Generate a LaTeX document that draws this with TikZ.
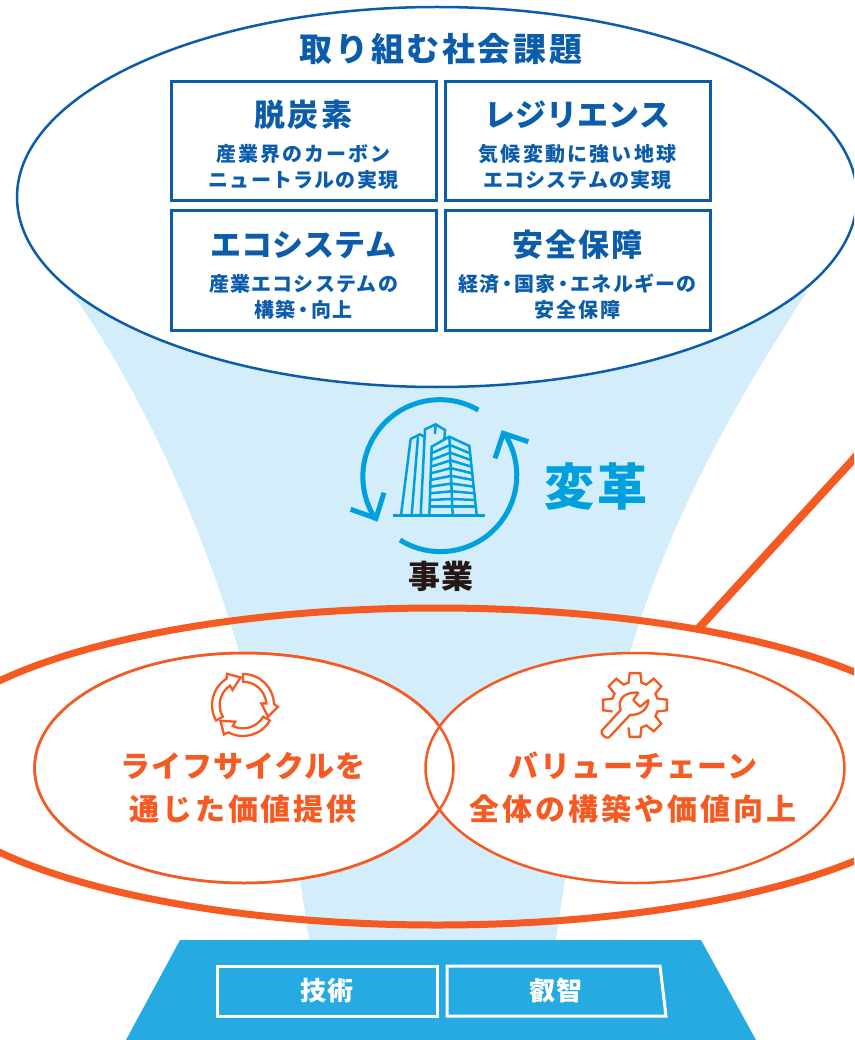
\documentclass[tikz,border=0pt]{standalone}
\usepackage{fontspec}
\usepackage{tikz}
\usetikzlibrary{arrows.meta, positioning, shapes.geometric, calc}

\newfontfamily\jpfont{Noto Sans CJK JP}[LetterSpace=6]
\newcommand{\jpsize}[2]{\fontsize{#1}{#2}\jpfont\bfseries\selectfont}
\newcommand{\ndot}{\kern-2.5pt・\kern-2.5pt}
\newcommand{\track}[2]{{\addfontfeature{LetterSpace=#1}#2}}
\newcommand{\boxhead}[2]{{\jpsize{31}{26}\addfontfeature{LetterSpace=#1}\rule{0pt}{34pt}#2}}

\definecolor{navy}{HTML}{0B5CAB}
\definecolor{sky}{HTML}{00A0DF}
\definecolor{pale}{HTML}{D4EDFB}
\definecolor{flame}{HTML}{F45A22}
\definecolor{basecol}{HTML}{25AAE1}
\definecolor{ink}{HTML}{231815}

\begin{document}
\begin{tikzpicture}[x=1pt, y=-1pt,
                box/.style={draw=navy, line width=3pt, minimum width=265pt, minimum height=119pt,
                           inner sep=0pt, outer sep=0pt, align=center, text=navy, font=\jpsize{20}{26}},
                ring/.style={draw=flame, line width=2.5pt, fill=white, ellipse, inner sep=0pt, outer sep=0pt,
                           minimum width=419pt, minimum height=230pt},
                orangetxt/.style={text=flame, align=center, inner sep=0pt, font=\jpsize{30}{43}},
                basebox/.style={draw=white, line width=3pt, inner sep=0pt, text=white,
                           font=\jpsize{26}{26}},
                icon/.style={draw=flame, line width=2.3pt, line join=miter},
                skyline/.style={draw=sky, line width=2.5pt}]

    \useasboundingbox (0,0) rectangle (854,1040);
    \clip (0,0) rectangle (854,1040);

    % funnel behind everything
    \fill[pale] (66,285) .. controls (125,365) and (195,500) .. (240,655) -- (300,880) -- (310,945)
        -- (555,945) -- (565,880) -- (630,652) .. controls (670,520) and (730,410) .. (808,290) -- cycle;

    % top ellipse with the four issue boxes
    \node[draw=navy, line width=2.5pt, fill=white, ellipse, minimum width=840pt, minimum height=380pt] (issues) at (437,197) {};
    \node[text=navy, inner sep=0pt, font=\jpsize{33}{33}] (issuetitle) at (441,49) {\track{8}{取り組む社会課題}};

    \node[box] (decarb) at (303.5,141.5) {\boxhead{7}{脱炭素}\\[9pt]\track{10.5}{産業界のカーボン}\\ニュートラルの実現};
    \node[box, right=9pt of decarb] (resil) {\boxhead{0}{レジリエンス}\\[9pt]\track{11}{気候変動に強い地球}\\\track{5}{エコシステムの実現}};
    \node[box, below=10pt of decarb] (eco) {\boxhead{0}{エコシステム}\\[9pt]産業エコシステムの\\構築\ndot 向上};
    \node[box, right=9pt of eco] (secure) {\boxhead{6}{安全保障}\\[9pt]経済\ndot 国家\ndot エネルギーの\\\track{11}{安全保障}};

    % business icon, drawn in 3x coordinates
    \begin{scope}[shift={(340,390)}, scale=1/3]
        \draw[sky, line width=5pt] (415,60) arc[start angle=-60, end angle=-213.7, radius=231];
        \draw[sky, line width=5pt] (32,358) -- (108,385) -- (132,308);
        \draw[sky, line width=5pt] (180,450) arc[start angle=122, end angle=-33.8, radius=229];
        \draw[sky, line width=5pt] (465,205) -- (490,130) -- (565,155);
    \end{scope}
    \begin{scope}[shift={(390,420)}, scale=1/3]
        \draw[skyline] (10,287) -- (285,287);
        \draw[skyline] (33,285) -- (62,57) -- (90,43) -- (105,52);
        \draw[skyline] (65,285) -- (84,50);
        \draw[skyline] (92,285) -- (105,28) -- (137,13) -- (165,30) -- (163,58);
        \draw[skyline] (137,13) -- (135,42);
        \draw[skyline] (118,285) -- (125,80) -- (178,50) -- (238,78) -- (260,285);
        \draw[skyline] (178,50) -- (188,285);
        \foreach \k in {0,...,8} {
            \pgfmathsetmacro{\t}{\k/8}
            \draw[skyline] ({124-5*\t},{100+160*\t}) -- ({180+7*\t},{75+185*\t}) -- ({240+18*\t},{100+160*\t});
        }
    \end{scope}
    \node[text=sky, inner sep=0pt, font=\jpsize{50}{50}] (change) at (596,487) {変革};
    \node[text=ink, inner sep=0pt, font=\jpsize{32}{32}] (biz) at (441,576) {事業};

    % big orange ellipse and the link leaving it
    \node[draw=flame, line width=7pt, ellipse, minimum width=1040pt, minimum height=317pt] (impact) at (437,766.5) {};
    \coordinate (linkend) at (860,452);
    \draw[flame, line width=8pt, shorten <=-5pt] (impact.28.3) -- (linkend);

    % two overlapping ellipses
    \node[ring] (life) at (244,768) {};
    \node[ring, right=-28pt of life] (chain) {};
    \draw[flame, line width=2.5pt] (life.center) ellipse [x radius=209.5, y radius=115];

    % recycle icon
    \begin{scope}[shift={(243,705)}, scale=1/3]
        \foreach \r in {0,120,240} {
            \draw[icon, rotate=\r] (-90:93) arc[start angle=-90, end angle=-2, radius=93] -- (3:105) -- (25:83)
                -- (-5:55) -- (-4:70) arc[start angle=-4, end angle=-90, radius=70] -- cycle;
        }
    \end{scope}
    % gear and wrench icon
    \begin{scope}[shift={(635,705)}, scale=1/3]
        \draw[icon] (164:70) -- (170.5:97) -- (189.5:97) -- (196:70)
            -- (209:70) -- (215.5:97) -- (234.5:97) -- (241:70)
            -- (254:70) -- (260.5:97) -- (279.5:97) -- (286:70)
            -- (299:70) -- (305.5:97) -- (324.5:97) -- (331:70)
            -- (344:70) -- (350.5:97) -- (369.5:97) -- (376:70)
            -- (389:70) -- (395.5:97) -- (414.5:97) -- (421:70)
            -- (434:70) -- (440.5:97) -- (459.5:97) -- (466:70);
    \end{scope}
    \begin{scope}[shift={(580,660)}, scale=1/3]
        \draw[icon, line join=round] (122,150) .. controls (112,120) and (130,95) .. (175,98) -- (160,120) -- (180,140)
            -- (205,120) .. controls (205,145) and (185,165) .. (150,165) -- (87,232)
            .. controls (78,238) and (60,222) .. (65,212) -- cycle;
    \end{scope}

    \node[orangetxt] (lifetxt) at (243,788) {\track{3}{ライフサイクルを}\\\track{9}{通じた価値提供}};
    \node[orangetxt] (chaintxt) at (633,788) {\track{5}{バリューチェーン}\\\track{10}{全体の構築や価値向上}};

    % base with the two foundations
    \fill[basecol] (180,940) -- (701,940) -- (756,1040) -- (126,1040) -- cycle;
    \node[basebox, minimum width=220pt, minimum height=50pt] (tech) at (327,991) {技術};
    \draw[white, line width=3pt] (447,966) -- (660,966) -- (666,1016) -- (447,1016) -- cycle;
    \node[inner sep=0pt, text=white, font=\jpsize{26}{26}] (wisdom) at (556,991) {叡智};
\end{tikzpicture}
\end{document}
